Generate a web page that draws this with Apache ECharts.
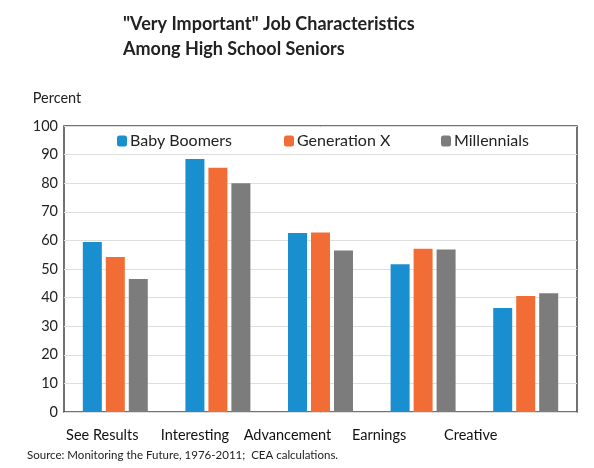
<!DOCTYPE html>
<html><head><meta charset="utf-8">
<script src="https://cdn.jsdelivr.net/npm/echarts@6/dist/echarts.min.js"></script>
<style>html,body{margin:0;padding:0;background:#fff}#c{width:594px;height:468px}</style>
</head><body><div id="c"></div>
<script>
const categories = ["See Results", "Interesting", "Advancement", "Earnings", "Creative"];
const babyBoomers = [59.4, 88.5, 62.6, 51.7, 36.4];
const generationX = [54.2, 85.4, 62.8, 57.1, 40.6];
const millennials = [46.5, 80.0, 56.5, 56.8, 41.5];
const yTicks = [0, 10, 20, 30, 40, 50, 60, 70, 80, 90, 100];
const seriesNames = ["Baby Boomers", "Generation X", "Millennials"];
const colors = ["#1a8fd0", "#f26d35", "#7c7c7c"];
const sourceText = "Source: Monitoring the Future, 1976-2011;  CEA calculations.";

const font = "Lato, 'Open Sans', sans-serif";
const labelShift = [26, 46, 66, 88, 110];
const rich = {};
categories.forEach((c, i) => { rich['c' + i] = { padding: [0, labelShift[i], 0, 0], fontSize: 14.5, color: '#111', fontFamily: font }; });

const chart = echarts.init(document.getElementById('c'));
const legendLefts = [112, 279, 436];
chart.setOption({
  animation: false,
  textStyle: { fontFamily: font },
  title: [{
    text: '"Very Important" Job Characteristics\nAmong High School Seniors',
    left: 118, top: 7,
    textStyle: { fontSize: 18, fontWeight: 'bold', color: '#222', lineHeight: 25, fontFamily: font }
  }, {
    text: sourceText, left: 22, top: 444,
    textStyle: { fontSize: 11.5, fontWeight: 'normal', color: '#222', fontFamily: font }
  }],
  legend: seriesNames.map((n, i) => ({
    data: [n], left: legendLefts[i], top: 128,
    itemWidth: 10, itemHeight: 11, itemGap: 0,
    textStyle: { fontSize: 16, color: '#222', fontFamily: font, padding: [0, 0, 0, -2] }
  })),
  grid: { left: 64, right: 17, top: 126, bottom: 56, show: true, borderColor: '#444', borderWidth: 1.5 },
  xAxis: {
    type: 'category', data: categories,
    axisLine: { show: false }, axisTick: { show: false },
    axisLabel: {
      margin: 16, interval: 0,
      formatter: (v, i) => '{c' + i + '|' + v + '}', rich: rich
    }
  },
  yAxis: {
    type: 'value', min: yTicks[0], max: yTicks[yTicks.length - 1], interval: 10,
    name: 'Percent', nameLocation: 'end', nameGap: 20,
    nameTextStyle: { fontSize: 14.5, color: '#222', align: 'center', padding: [0, 14, 0, 0], fontFamily: font },
    axisLine: { show: false }, axisTick: { show: false },
    axisLabel: { fontSize: 14.5, color: '#222', margin: 6, fontFamily: font },
    splitLine: { lineStyle: { color: '#dedede', width: 1 } }
  },
  series: [babyBoomers, generationX, millennials].map((d, i) => ({
    name: seriesNames[i], type: 'bar', data: d, barWidth: 19, barGap: '21%',
    itemStyle: { color: colors[i] }
  }))
});
</script></body></html>
